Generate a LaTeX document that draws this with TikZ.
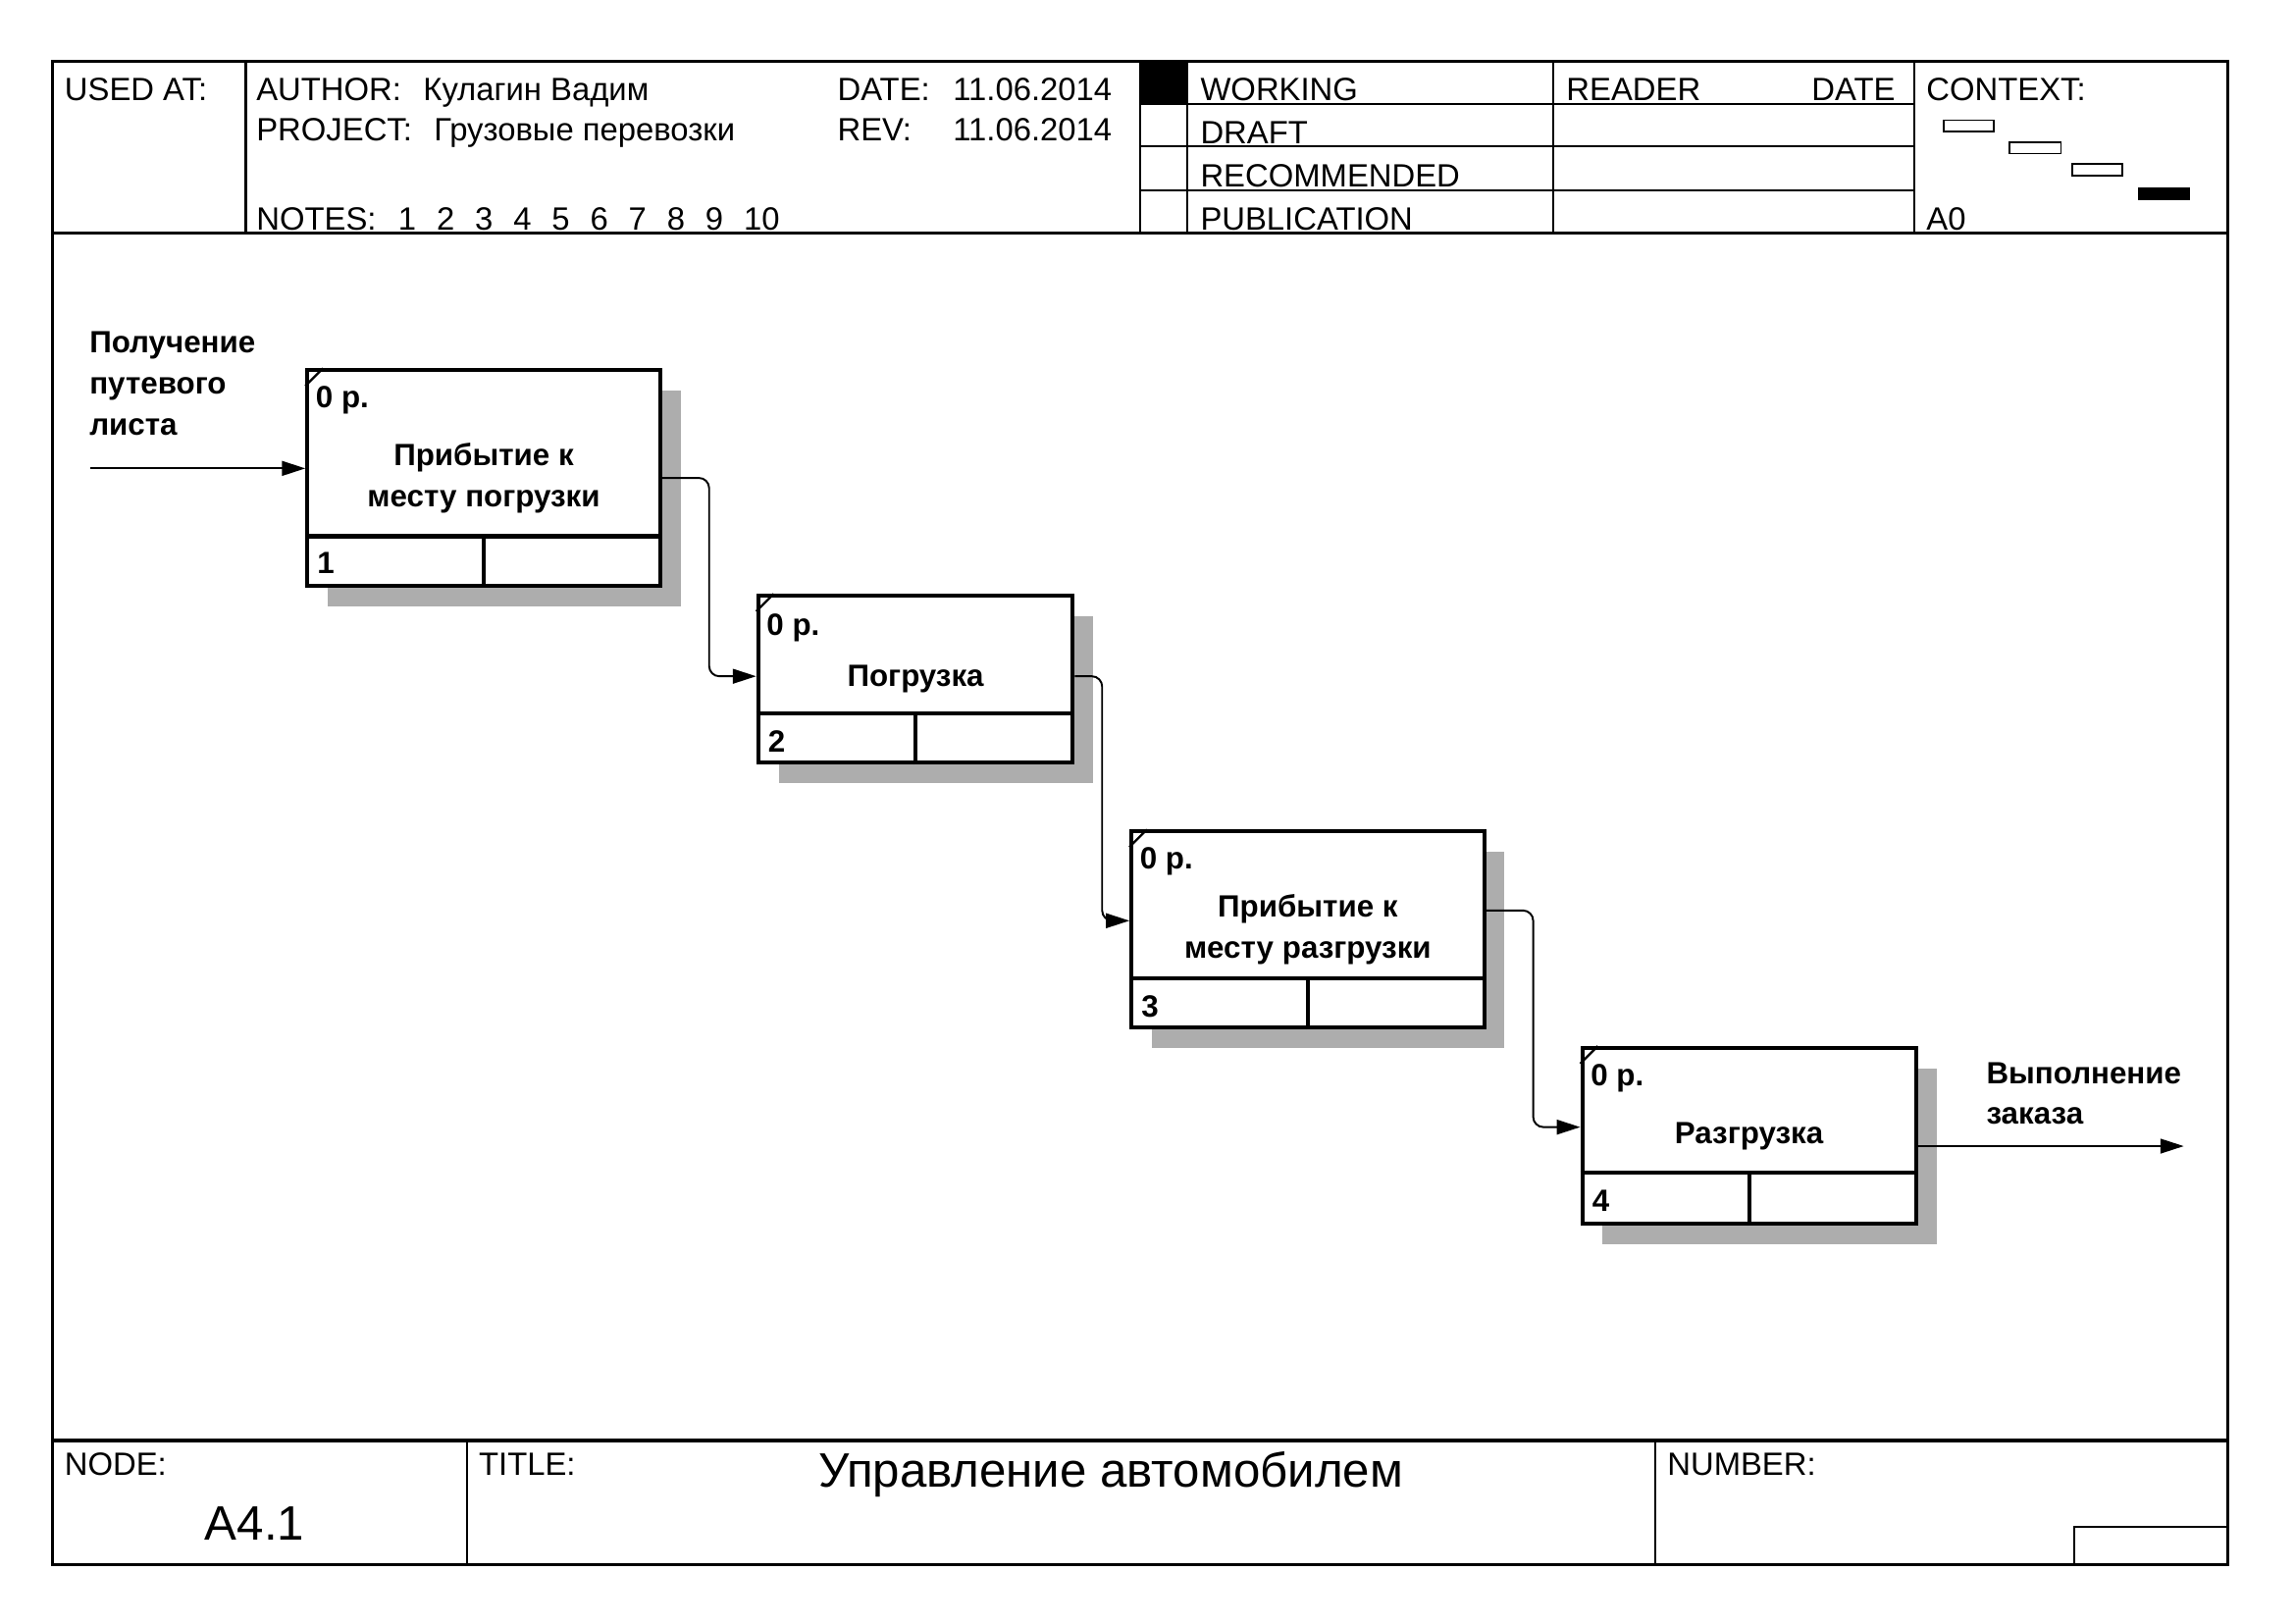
\documentclass[tikz,border=0pt]{standalone}
\usepackage{fontspec}
\setmainfont{Liberation Sans}
\usetikzlibrary{arrows.meta,positioning,calc,shadows}
\tikzset{frm/.style={line width=2.2pt}, rule/.style={line width=1.6pt}, fine/.style={line width=1.1pt},
  hdr/.style={font=\fontsize{22}{26}\selectfont,inner sep=0pt,anchor=base west},
  big/.style={font=\fontsize{33}{36}\selectfont,inner sep=0pt,anchor=base},
  act/.style={draw,line width=2.7pt,fill=white,align=center,font=\bfseries\fontsize{21}{28}\selectfont,drop shadow={shadow xshift=14pt,shadow yshift=-14pt,opacity=1,fill=black!32}},
  cost/.style={font=\bfseries\fontsize{21}{24}\selectfont,inner sep=0pt,anchor=west},
  lbl/.style={font=\bfseries\fontsize{21}{28}\selectfont,align=left,inner sep=0pt,anchor=west},
  flow/.style={-{Triangle[length=16pt,width=10pt]},line width=1.3pt,rounded corners=7pt}}
\begin{document}
\begin{tikzpicture}[x=1pt,y=-1pt]
\useasboundingbox (0,0) rectangle (1568,1109);
% form
\draw[frm] (36,42) rectangle (1522,1069);
\draw[frm] (36,159) -- (1522,159) (36,984) -- (1522,984);
\draw[rule] (168,42) -- (168,159) (779,42) -- (779,159) (811,42) -- (811,159) (1061,42) -- (1061,159) (1308,42) -- (1308,159);
\draw[rule] (779,71) -- (1308,71) (779,100) -- (1308,100) (779,130) -- (1308,130);
\fill (779,42) rectangle (811,71);
\draw[rule] (319,984) -- (319,1069) (1131,984) -- (1131,1069) (1417,1069) -- (1417,1043) -- (1522,1043);
\draw[fine] (1328,82) rectangle (1362,90) (1373,97) rectangle (1408,105) (1416,112) rectangle (1450,120);
\fill (1461,128) rectangle (1496,137);
% header
\node[hdr] (used) at (44,69) {USED AT:};
\node[hdr] (author) at (175,69) {AUTHOR:\hspace{15pt}Кулагин Вадим};
\node[hdr] (project) at (175,96) {PROJECT:\hspace{15pt}Грузовые перевозки};
\node[hdr] (notes) at (175,157) {NOTES:\hspace{15pt}1\hspace{14pt}2\hspace{14pt}3\hspace{14pt}4\hspace{14pt}5\hspace{14pt}6\hspace{14pt}7\hspace{14pt}8\hspace{14pt}9\hspace{14pt}10};
\node[hdr] (date) at (572,69) {\makebox[79pt][l]{DATE:}11.06.2014};
\node[hdr] (rev) at (572,96) {\makebox[79pt][l]{REV:}11.06.2014};
\node[hdr] (working) at (820,69) {WORKING};
\node[hdr] (draft) at (820,98) {DRAFT};
\node[hdr] (recom) at (820,128) {RECOMMENDED};
\node[hdr] (publ) at (820,157) {PUBLICATION};
\node[hdr] (reader) at (1070,69) {READER};
\node[hdr,anchor=base east] (rdate) at (1295,69) {DATE};
\node[hdr] (context) at (1316,69) {CONTEXT:};
\node[hdr] (azero) at (1316,157) {A0};
% footer
\node[hdr] (nodel) at (44,1008) {NODE:};
\node[big] (nodeid) at (174,1052) {A4.1};
\node[hdr] (titlel) at (327,1008) {TITLE:};
\node[big] (title) at (759,1016) {Управление автомобилем};
\node[hdr] (numl) at (1139,1008) {NUMBER:};
% activities
\node[act,minimum width=241pt,minimum height=147pt] (b1) at (330.5,326.5) {Прибытие к\\месту погрузки};
\node[act,minimum width=215pt,minimum height=114pt] (b2) at (625.5,464) {Погрузка};
\node[act,minimum width=241pt,minimum height=134pt] (b3) at (893.5,635) {Прибытие к\\месту разгрузки};
\node[act,minimum width=228pt,minimum height=120pt] (b4) at (1195,776) {Разгрузка};
\draw[line width=2.7pt] ([yshift=35pt]b1.south west) -- ([yshift=35pt]b1.south east) (b1.south) -- ([yshift=35pt]b1.south);
\draw[line width=2.7pt] ([yshift=35pt]b2.south west) -- ([yshift=35pt]b2.south east) (b2.south) -- ([yshift=35pt]b2.south);
\draw[line width=2.7pt] ([yshift=35pt]b3.south west) -- ([yshift=35pt]b3.south east) (b3.south) -- ([yshift=35pt]b3.south);
\draw[line width=2.7pt] ([yshift=36pt]b4.south west) -- ([yshift=36pt]b4.south east) (b4.south) -- ([yshift=36pt]b4.south);
\draw[rule] ([yshift=-12pt]b1.north west) -- ([xshift=12pt]b1.north west) ([yshift=-12pt]b2.north west) -- ([xshift=12pt]b2.north west);
\draw[rule] ([yshift=-12pt]b3.north west) -- ([xshift=12pt]b3.north west) ([yshift=-12pt]b4.north west) -- ([xshift=12pt]b4.north west);
\node[cost] (c1) at ([xshift=7pt,yshift=-22pt]b1.north west) {0 р.};
\node[cost] (c2) at ([xshift=7pt,yshift=-23pt]b2.north west) {0 р.};
\node[cost] (c3) at ([xshift=7pt,yshift=-22pt]b3.north west) {0 р.};
\node[cost] (c4) at ([xshift=7pt,yshift=-22pt]b4.north west) {0 р.};
\node[cost] (n1) at ([xshift=8pt,yshift=17pt]b1.south west) {1};
\node[cost] (n2) at ([xshift=8pt,yshift=16pt]b2.south west) {2};
\node[cost] (n3) at ([xshift=8pt,yshift=16pt]b3.south west) {3};
\node[cost] (n4) at ([xshift=8pt,yshift=17pt]b4.south west) {4};
% arrows
\coordinate (in) at (62,320);
\coordinate (out) at (1492,783);
\node[lbl] (get) at (61,262) {Получение\\путевого\\листа};
\node[lbl] (done) at (1357,747) {Выполнение\\заказа};
\draw[flow] (in) -- ([yshift=6.5pt]b1.west);
\draw[flow] (b1.east) -| ($(b1.east)!.5!(b2.west)$) |- ([yshift=2pt]b2.west);
\draw[flow] ([yshift=2pt]b2.east) -| ($(b2.east)!.5!(b3.west)$) |- ([yshift=6pt]b3.west);
\draw[flow] ([yshift=13pt]b3.east) -| ($(b3.east)!.5!(b4.west)$) |- ([yshift=6pt]b4.west);
\draw[flow] ([yshift=-7pt]b4.east) -- (out);
\end{tikzpicture}
\end{document}
